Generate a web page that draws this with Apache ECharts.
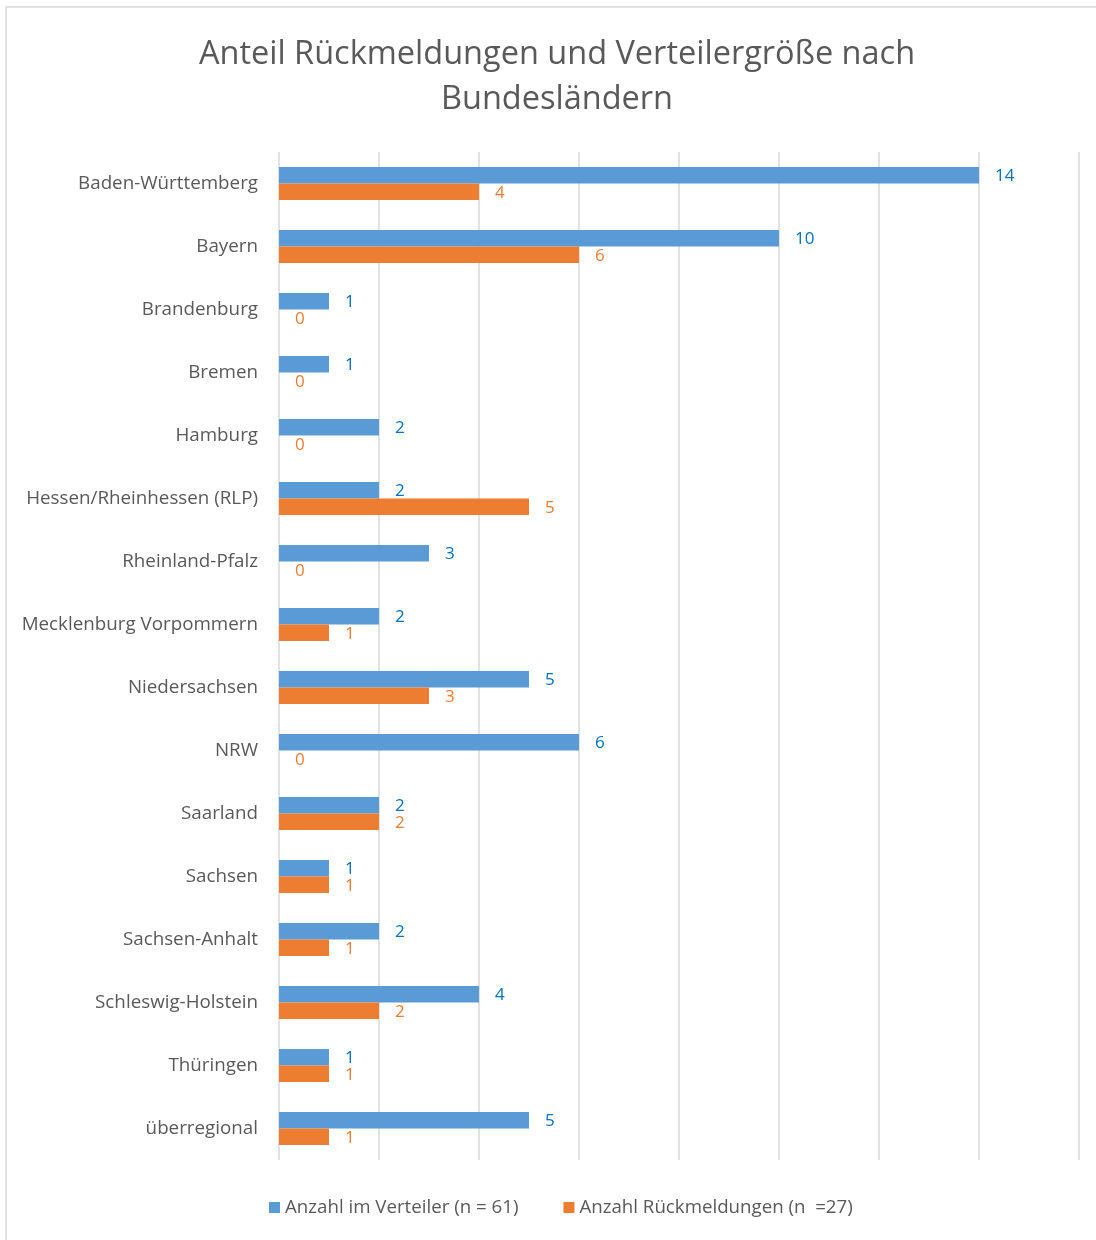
<!DOCTYPE html>
<html>
<head>
<meta charset="utf-8">
<script src="https://cdn.jsdelivr.net/npm/echarts@6/dist/echarts.min.js"></script>
<style>
  html, body { margin: 0; padding: 0; background: #fff; }
  #chart { width: 1096px; height: 1240px; }
</style>
</head>
<body>
<div id="chart"></div>
<script>
var laender = ['Baden-Württemberg', 'Bayern', 'Brandenburg', 'Bremen', 'Hamburg',
  'Hessen/Rheinhessen (RLP)', 'Rheinland-Pfalz', 'Mecklenburg Vorpommern', 'Niedersachsen',
  'NRW', 'Saarland', 'Sachsen', 'Sachsen-Anhalt', 'Schleswig-Holstein', 'Thüringen', 'überregional'];
var verteiler = [14, 10, 1, 1, 2, 2, 3, 2, 5, 6, 2, 1, 2, 4, 1, 5];
var rueckmeldungen = [4, 6, 0, 0, 0, 5, 0, 1, 3, 0, 2, 1, 1, 2, 1, 1];

var font = '"Open Sans", Lato, sans-serif';

var myChart = echarts.init(document.getElementById('chart'));
myChart.setOption({
  textStyle: { fontFamily: font },
  graphic: [{
    type: 'rect',
    shape: { x: 6, y: 7, width: 1100, height: 1250 },
    style: { fill: 'none', stroke: '#d9d9d9', lineWidth: 1.5 },
    silent: true
  }],
  title: {
    text: 'Anteil Rückmeldungen und Verteilergröße nach\nBundesländern',
    left: 557,
    top: 32,
    padding: 0,
    textAlign: 'center',
    textStyle: { fontFamily: font, fontSize: 32.5, fontWeight: 'normal', color: '#595959', lineHeight: 45 }
  },
  legend: {
    bottom: 18,
    left: 264,
    itemWidth: 11,
    itemHeight: 11,
    itemGap: 45,
    icon: 'rect',
    textStyle: { fontFamily: font, fontSize: 18.7, color: '#595959' },
    data: ['Anzahl im Verteiler (n = 61)', 'Anzahl Rückmeldungen (n  =27)']
  },
  grid: { left: 279, top: 152, width: 800, height: 1008 },
  xAxis: {
    type: 'value',
    min: 0,
    max: 16,
    interval: 2,
    axisLabel: { show: false },
    axisLine: { show: false },
    axisTick: { show: false },
    splitLine: { show: true, lineStyle: { color: '#d9d9d9', width: 1.5 } }
  },
  yAxis: {
    type: 'category',
    inverse: true,
    data: laender,
    axisLine: { show: false },
    axisTick: { show: false },
    axisLabel: { margin: 21, fontFamily: font, fontSize: 18.8, color: '#595959' }
  },
  series: [
    {
      name: 'Anzahl im Verteiler (n = 61)',
      type: 'bar',
      data: verteiler,
      barWidth: 16.5,
      barGap: '0%',
      itemStyle: { color: '#5B9BD5' },
      label: { show: true, position: 'right', distance: 16, offset: [0, 1], color: '#0070C0', fontFamily: font, fontSize: 17 }
    },
    {
      name: 'Anzahl Rückmeldungen (n  =27)',
      type: 'bar',
      data: rueckmeldungen,
      barWidth: 16.5,
      itemStyle: { color: '#ED7D31' },
      label: { show: true, position: 'right', distance: 16, offset: [0, 1], color: '#ED7D31', fontFamily: font, fontSize: 17 }
    }
  ]
});
</script>
</body>
</html>
